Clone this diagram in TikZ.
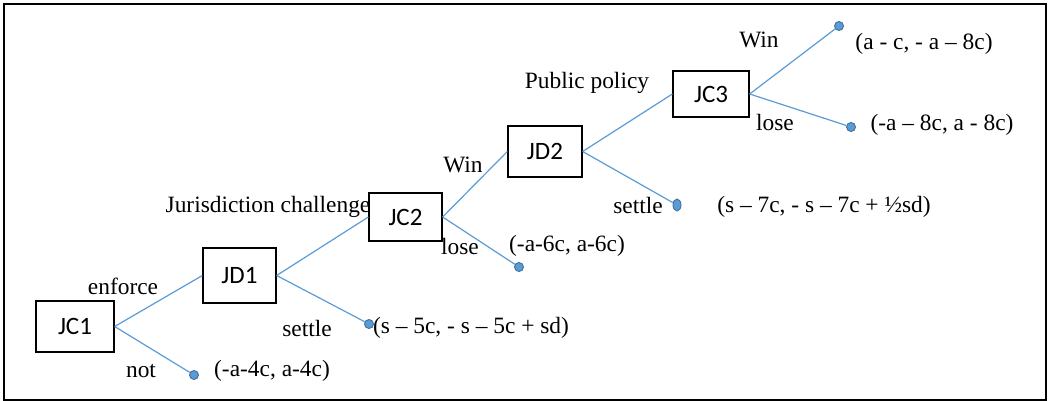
\documentclass[tikz,border=0pt]{standalone}
\usepackage{fontspec}
\setmainfont{Liberation Serif}
\newfontfamily\boxfont{Carlito}
\usetikzlibrary{shapes.geometric}
\definecolor{lineblue}{HTML}{5B9BD5}
\definecolor{dotedge}{HTML}{41719C}
\begin{document}
\begin{tikzpicture}[x=1pt,y=-1pt,
  box/.style={draw=black, line width=1.3pt, inner sep=0pt, font=\boxfont\fontsize{25}{30}\selectfont},
  lbl/.style={inner sep=0pt, anchor=base, font=\fontsize{23.4}{28}\selectfont},
  edge/.style={draw=lineblue, line width=1.2pt},
  dot/.style={circle, fill=lineblue, draw=dotedge, line width=0.9pt, inner sep=0pt, minimum size=9pt},
  odot/.style={ellipse, fill=lineblue, draw=dotedge, line width=0.9pt, inner sep=0pt, minimum width=8pt, minimum height=12pt}]
\useasboundingbox (0,0) rectangle (1048,401);
\draw[line width=2pt] (4,4.5) rectangle (1046,399.5);
% decision boxes
\node[box, minimum width=78pt, minimum height=51pt] (JC1) at (75,326.5) {JC1};
\node[box, minimum width=73pt, minimum height=55pt] (JD1) at (239.5,275.5) {JD1};
\node[box, minimum width=73pt, minimum height=48pt] (JC2) at (405.5,217) {JC2};
\node[box, minimum width=74pt, minimum height=51pt] (JD2) at (545,151.5) {JD2};
\node[box, minimum width=76pt, minimum height=46pt] (JC3) at (711,94) {JC3};
% terminal dots
\node[dot] (dNot) at (194,375) {};
\node[dot] (dSettle1) at (369,324) {};
\node[dot] (dLose2) at (519,267) {};
\node[odot] (dSettle2) at (677,205) {};
\node[dot] (dWin3) at (839,26) {};
\node[dot] (dLose3) at (851,127) {};
% connectors
\draw[edge] (JC1.east) -- (JD1.west);
\draw[edge] (JC1.east) -- (dNot);
\draw[edge] (JD1.east) -- (JC2.west);
\draw[edge] (JD1.east) -- (dSettle1);
\draw[edge] (JC2.east) -- (JD2.west);
\draw[edge] (JC2.east) -- (dLose2);
\draw[edge] (JD2.east) -- (JC3.west);
\draw[edge] (JD2.east) -- (dSettle2);
\draw[edge] (JC3.east) -- (dWin3);
\draw[edge] (JC3.east) -- (dLose3);
% branch labels
\node[lbl] (tEnforce) at (123,294) {enforce};
\node[lbl] (tNot) at (141,377) {not};
\node[lbl] (tSettle1) at (307,336) {settle};
\node[lbl] (tJur) at (268,212) {Jurisdiction challenge};
\node[lbl] (tWin2) at (463,172) {Win};
\node[lbl] (tLose2) at (460,254) {lose};
\node[lbl] (tSettle2) at (638,213) {settle};
\node[lbl] (tPub) at (587,89) {Public policy};
\node[lbl] (tWin3) at (759,48) {Win};
\node[lbl] (tLose3) at (775,130) {lose};
% payoffs
\node[lbl] (pNot) at (272,376) {(-a-4c, a-4c)};
\node[lbl] (pSettle1) at (471,333) {(s -- 5c, - s -- 5c + sd)};
\node[lbl] (pLose2) at (567,251) {(-a-6c, a-6c)};
\node[lbl] (pSettle2) at (824,212) {(s -- 7c, - s -- 7c + ½sd)};
\node[lbl] (pWin3) at (924,50) {(a - c, - a -- 8c)};
\node[lbl] (pLose3) at (942,130) {(-a -- 8c, a - 8c)};
\end{tikzpicture}
\end{document}
